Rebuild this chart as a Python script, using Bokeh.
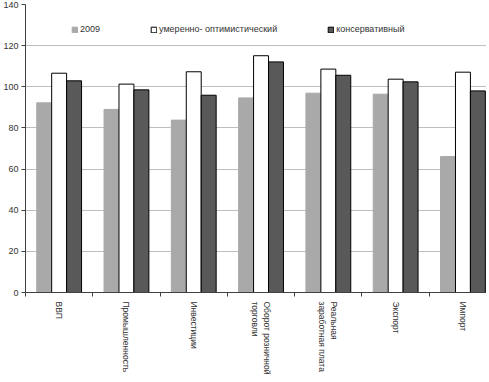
import numpy as np
from bokeh.plotting import figure
from bokeh.models import Range1d, FixedTicker, ColumnDataSource, Legend, LegendItem
from bokeh.transform import dodge
from bokeh.embed import file_html
from bokeh.resources import INLINE

categories = ["ВВП", "Промышленность", "Инвестиции", "Оборот розничной\nторговли",
              "Реальная\nзаработная плата", "Экспорт", "Импорт"]
series_names = ["2009", "умеренно- оптимистический", "консервативный"]
v2009 = [92.2, 89.0, 83.8, 94.6, 96.9, 96.4, 66.1]
v_opt = [106.6, 101.3, 107.3, 115.1, 108.6, 103.7, 107.1]
v_cons = [102.9, 98.5, 95.9, 112.1, 105.6, 102.4, 98.0]
y_ticks = [0, 20, 40, 60, 80, 100, 120, 140]

n = len(categories)
centers = [i + 0.5 for i in range(n)]
bounds = list(range(n + 1))

src = ColumnDataSource(dict(x=centers, a=v2009, b=v_opt, c=v_cons))

FH = 288
p = figure(frame_width=461, frame_height=FH, x_range=Range1d(0, 6.85), y_range=Range1d(0, 140),
           output_backend="svg", toolbar_location=None,
           min_border_left=20, min_border_top=4, min_border_right=0, min_border_bottom=70)
p.outline_line_color = None
p.background_fill_color = "white"

bw = 0.222
r1 = p.vbar(x=dodge("x", -bw), top="a", width=bw, source=src,
            fill_color="#A9A9A9", line_color="#A9A9A9")
r2 = p.vbar(x=dodge("x", 0), top="b", width=bw, source=src,
            fill_color="white", line_color="black", line_width=1)
r3 = p.vbar(x=dodge("x", bw), top="c", width=bw, source=src,
            fill_color="#595959", line_color="black", line_width=1)

font = "Liberation Sans"
# Y axis
p.yaxis.ticker = FixedTicker(ticks=y_ticks)
p.yaxis.major_tick_out = 4
p.yaxis.major_tick_in = 0
p.yaxis.minor_tick_line_color = None
p.yaxis.major_label_standoff = 3
p.yaxis.axis_line_color = "#404040"
p.yaxis.major_tick_line_color = "#404040"
p.yaxis.major_label_text_font = font
p.yaxis.major_label_text_font_size = "9px"
p.yaxis.major_label_text_color = "#333333"

# X axis
p.xaxis.ticker = FixedTicker(ticks=centers, minor_ticks=bounds)
p.xaxis.major_label_overrides = {c: lab for c, lab in zip(centers, categories)}
p.xaxis.major_tick_line_color = None
p.xaxis.major_tick_out = 0
p.xaxis.major_tick_in = 0
p.xaxis.minor_tick_out = 4
p.xaxis.minor_tick_in = 0
p.xaxis.minor_tick_line_color = "#404040"
p.xaxis.axis_line_color = "#404040"
p.xaxis.major_label_orientation = -np.pi / 2
p.xaxis.major_label_standoff = 5
p.xaxis.major_label_text_font = font
p.xaxis.major_label_text_font_size = "8.5px"
p.xaxis.major_label_text_color = "#333333"

p.xgrid.visible = False
p.ygrid.ticker = FixedTicker(ticks=y_ticks)
p.ygrid.grid_line_color = "#BEBEBE"

legend = Legend(items=[LegendItem(label=series_names[0], renderers=[r1]),
                       LegendItem(label=series_names[1], renderers=[r2]),
                       LegendItem(label=series_names[2], renderers=[r3])],
                orientation="horizontal", location=(46, FH - 30), spacing=50,
                glyph_width=7, glyph_height=7, label_standoff=2, padding=0, margin=0,
                border_line_color=None, background_fill_alpha=0,
                label_text_font=font, label_text_font_size="9px",
                label_text_color="#333333", label_height=9)
p.add_layout(legend, "center")

open("out.html", "w").write(file_html(p, INLINE))
